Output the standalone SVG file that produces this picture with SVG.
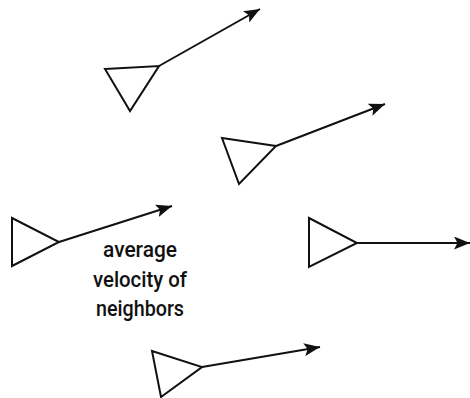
<svg xmlns="http://www.w3.org/2000/svg" width="470" height="398" viewBox="0 0 470 398">
<style>
.tri{fill:none;stroke:#111;stroke-width:2;stroke-linejoin:miter}
.vel{stroke:#111;stroke-width:2;fill:none;marker-end:url(#ah)}
.lbl{font-family:Roboto,"Liberation Sans",sans-serif;font-weight:500;font-size:22px;fill:#111;text-anchor:middle}
</style>
<defs>
<marker id="ah" markerUnits="userSpaceOnUse" markerWidth="17" markerHeight="13" refX="16" refY="6.5" orient="auto">
<path d="M0,0 L16,6.5 L0,13 L3.5,6.5 Z" fill="#111"/>
</marker>
</defs>
<g id="connectors">
<line class="vel" x1="159" y1="66" x2="260" y2="9"/>
<line class="vel" x1="276" y1="146" x2="385" y2="104"/>
<line class="vel" x1="59" y1="242" x2="172" y2="206"/>
<line class="vel" x1="357" y1="243" x2="470" y2="243"/>
<line class="vel" x1="202" y1="367" x2="320" y2="347"/>
</g>
<g id="boid1"><polygon class="tri" points="105,69 159,66 130,111"/></g>
<g id="boid2"><polygon class="tri" points="222,138 276,146 239,184"/></g>
<g id="boid3"><polygon class="tri" points="12,218 59,242 12,266"/></g>
<g id="boid4"><polygon class="tri" points="309,218 357,243 309,267"/></g>
<g id="boid5"><polygon class="tri" points="152,351 202,367 161,397"/></g>
<g id="label">
<text class="lbl" x="140" y="257" textLength="74" lengthAdjust="spacingAndGlyphs">average</text>
<text class="lbl" x="140" y="287" textLength="94" lengthAdjust="spacingAndGlyphs">velocity of</text>
<text class="lbl" x="140" y="316" textLength="88" lengthAdjust="spacingAndGlyphs">neighbors</text>
</g>
</svg>
